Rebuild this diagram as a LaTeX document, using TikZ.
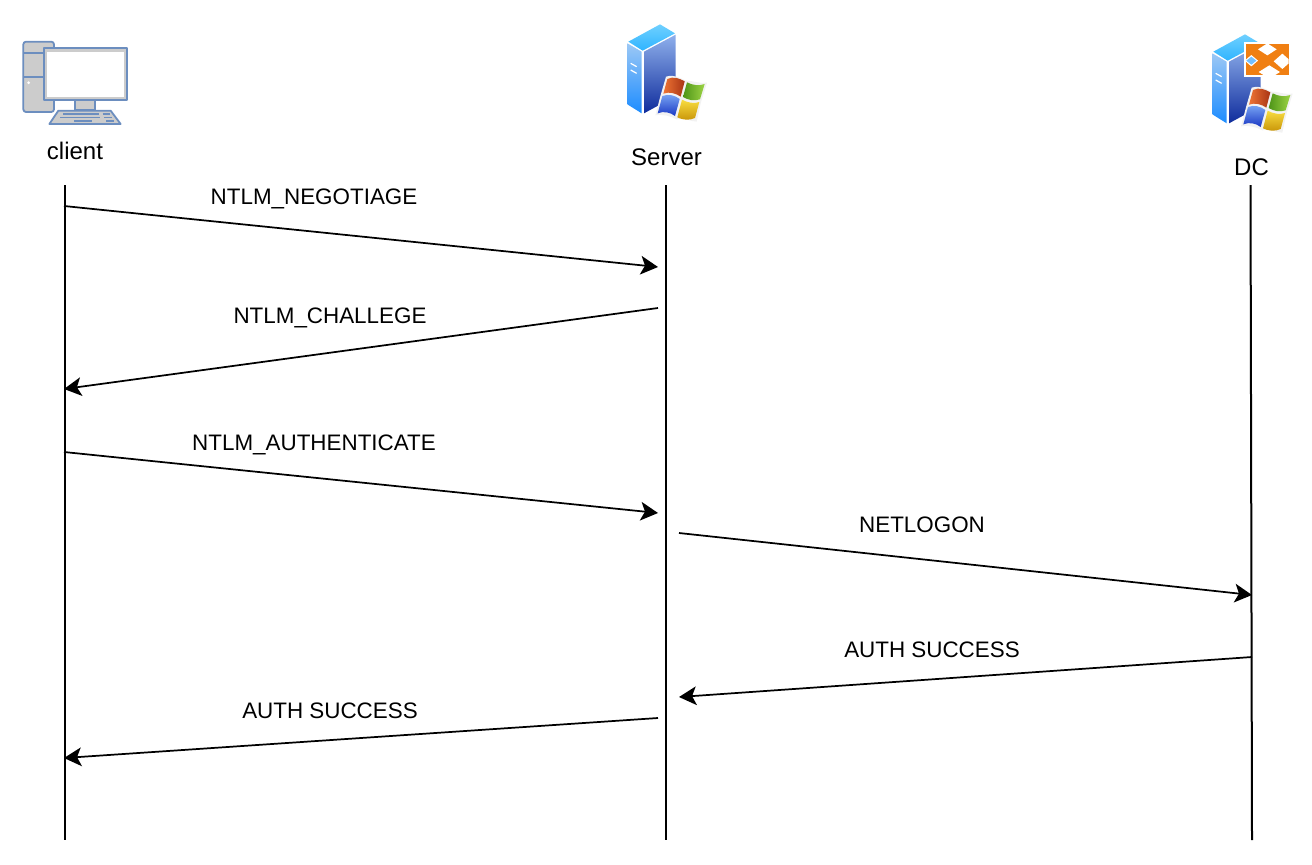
\documentclass[tikz,border=0pt]{standalone}
\usepackage{fontspec}
\setmainfont{Liberation Sans}
\usetikzlibrary{arrows.meta,shadings}
\definecolor{pcline}{HTML}{6C8EBF}
\definecolor{pcfill}{HTML}{CCCCCC}
\definecolor{dcorange}{HTML}{F07F12}
\definecolor{topA}{HTML}{2FB4FF}\definecolor{topB}{HTML}{6FD0FF}
\definecolor{leftA}{HTML}{9CC8F5}\definecolor{leftB}{HTML}{1C8CFF}
\definecolor{rightA}{HTML}{8FB0EC}\definecolor{rightB}{HTML}{0F2C9C}
\definecolor{flagRa}{HTML}{EE7434}\definecolor{flagRb}{HTML}{A83414}
\definecolor{flagGa}{HTML}{4E9418}\definecolor{flagGb}{HTML}{9CD444}
\definecolor{flagBa}{HTML}{7AA6F4}\definecolor{flagBb}{HTML}{1A38C4}
\definecolor{flagYa}{HTML}{F8DC40}\definecolor{flagYb}{HTML}{C89408}
\definecolor{halo}{HTML}{F2F2F2}
\tikzset{
  lifeline/.style={line width=1.5pt,black},
  msg/.style={line width=1.3pt,black,-{Stealth[length=13pt,width=14pt,inset=3.2pt]}},
  lbl/.style={font=\fontsize{16.8pt}{19pt}\selectfont,text=black,inner sep=0pt},
  ttl/.style={font=\fontsize{18pt}{21pt}\selectfont,text=black,inner sep=0pt},
  pcpart/.style={draw=pcline,fill=pcfill,line width=1.35pt,line join=round},
  keyline/.style={draw=pcline,line width=1.1pt},
}
\newcommand{\winflag}{%
  \fill[halo] (168,200) .. controls (195,192) and (210,205) .. (228,212) .. controls (250,212) and (270,222) .. (291,218) -- (272,280) -- (260,335) .. controls (240,335) and (220,320) .. (200,328) .. controls (180,318) and (160,312) .. (136,316) -- (152,255) -- cycle;
  \shade[left color=flagRa,right color=flagRb] (172,207) .. controls (190,198) and (208,205) .. (224,214) -- (212,260) .. controls (198,250) and (178,244) .. (160,251) -- cycle;
  \shade[left color=flagGa,right color=flagGb] (231,217) .. controls (248,226) and (268,228) .. (284,222) -- (270,268) .. controls (252,274) and (234,270) .. (219,261) -- cycle;
  \shade[top color=flagBa,bottom color=flagBb] (157,258) .. controls (175,251) and (195,256) .. (209,267) -- (195,318) .. controls (180,306) and (160,303) .. (143,310) -- cycle;
  \shade[top color=flagYa,bottom color=flagYb] (216,269) .. controls (232,278) and (252,282) .. (268,276) -- (255,324) .. controls (238,332) and (218,330) .. (202,322) -- cycle;
}
\newcommand{\srvicon}{%
  \shade[top color=topB,bottom color=topA] (150,43) -- (195,70) -- (98,122) -- (55,95) -- cycle;
  \shade[top color=leftA,bottom color=leftB] (52,100) -- (95,125) -- (95,310) -- (52,283) -- cycle;
  \shade[top color=rightA,bottom color=rightB] (102,125) -- (197,74) -- (197,258) -- (102,310) -- cycle;
  \draw[white,line width=0.9pt] (62,160) -- (80,170) (62,180) -- (80,190);
}
% centre x, centre y, half width, half height, colour
\newcommand{\dmd}[5]{\fill[#5] (#1-#3,#2) -- (#1,#2-#4) -- (#1+#3,#2) -- (#1,#2+#4) -- cycle;}
\begin{document}
\begin{tikzpicture}[x=0.75pt,y=-0.75pt]
\useasboundingbox (0,0) rectangle (1312,864);
% client icon
\begin{scope}[shift={(0,20)},x=0.25pt,y=-0.25pt]
  \draw[pcpart,rounded corners=2pt] (70,65) rectangle (162,276);
  \draw[pcpart] (70,100) -- (162,100) (70,170) -- (162,170);
  \fill[white] (86,188) circle (4.5);
  \draw[pcpart] (224,240) rectangle (285,270);
  \draw[pcpart] (132,85) rectangle (380,241);
  \fill[white] (140,96) rectangle (371,230);
  \draw[pcpart] (175,272) -- (332,272) -- (362,312) -- (148,312) -- cycle;
  \draw[keyline] (190,282) -- (298,282) (308,282) -- (330,282)
        (180,292) -- (300,292) (312,292) -- (336,292)
        (222,303) -- (276,303) (318,303) -- (342,303);
\end{scope}
% server icon
\begin{scope}[shift={(610,10)},x=0.25pt,y=-0.25pt]
  \srvicon
  \winflag
\end{scope}
% DC icon
\begin{scope}[shift={(1195,20)},x=0.25pt,y=-0.25pt]
  \srvicon
  \fill[white] (147,67) rectangle (287,171);
  \fill[dcorange] (153,72) rectangle (281,166);
  \begin{scope}
    \clip (153,72) rectangle (281,166);
    \dmd{217}{88}{28}{18}{white}
    \dmd{223}{156}{32}{20}{white}
    \dmd{262}{124}{26}{23}{white}
  \end{scope}
  \dmd{169}{122}{20}{17}{white}
  \dmd{169}{122}{15}{12}{blue!45!cyan!55!white}
  \begin{scope}[shift={(2,3)}]
    \winflag
  \end{scope}
\end{scope}
% titles
\node[ttl] (clientlbl) at (75,151) {client};
\node[ttl] (serverlbl) at (666.5,157.5) {Server};
\node[ttl] (dclbl) at (1251.5,167.5) {DC};
% lifelines
\coordinate (ca) at (64.5,185); \coordinate (cb) at (64.5,840);
\coordinate (sa) at (666,185); \coordinate (sb) at (666,840);
\coordinate (da) at (1250.5,185); \coordinate (db) at (1252,840);
\draw[lifeline] (ca) -- (cb);
\draw[lifeline] (sa) -- (sb);
\draw[lifeline] (da) -- (db);
% message ends
\coordinate (m1a) at (64,206);  \coordinate (m1b) at (658,267);
\coordinate (m2a) at (658,308); \coordinate (m2b) at (64,389);
\coordinate (m3a) at (64,452);  \coordinate (m3b) at (658,513);
\coordinate (m4a) at (679,533); \coordinate (m4b) at (1252,595);
\coordinate (m5a) at (1252,657);\coordinate (m5b) at (679,697);
\coordinate (m6a) at (658,718); \coordinate (m6b) at (64,758);
\draw[msg] (m1a) -- (m1b);
\draw[msg] (m2a) -- (m2b);
\draw[msg] (m3a) -- (m3b);
\draw[msg] (m4a) -- (m4b);
\draw[msg] (m5a) -- (m5b);
\draw[msg] (m6a) -- (m6b);
% labels
\node[lbl] (l1) at (314,199) {NTLM\_NEGOTIAGE};
\node[lbl] (l2) at (330,317.5) {NTLM\_CHALLEGE};
\node[lbl] (l3) at (314,445) {NTLM\_AUTHENTICATE};
\node[lbl] (l4) at (922,525) {NETLOGON};
\node[lbl] (l5) at (932,649.5) {AUTH SUCCESS};
\node[lbl] (l6) at (330,710.5) {AUTH SUCCESS};
\end{tikzpicture}
\end{document}
